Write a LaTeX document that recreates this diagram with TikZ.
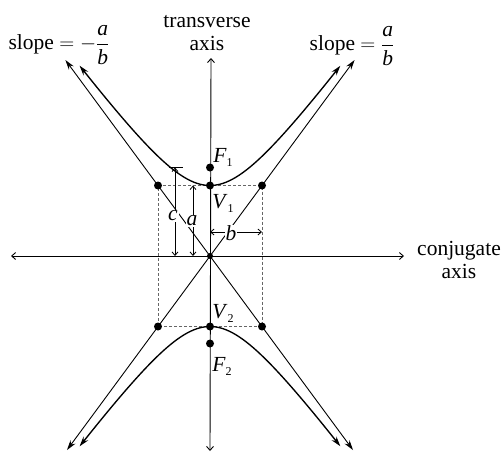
\documentclass[tikz,border=0pt]{standalone}
\usepackage{fontspec}
\setmainfont{Liberation Serif}
\usetikzlibrary{arrows.meta}
\newcommand{\subidx}[1]{\raisebox{-4pt}{\fontsize{12}{12}\selectfont #1}}
\begin{document}
\begin{tikzpicture}[x=1pt,y=-1pt,
  font=\fontsize{21.5}{23}\selectfont,
  axisline/.style={line width=0.9pt,{Straight Barb[length=4pt,width=7pt]}-{Straight Barb[length=4pt,width=7pt]}},
  asym/.style={line width=0.9pt,{Stealth[length=10pt,width=6pt]}-{Stealth[length=10pt,width=6pt]}},
  hyp/.style={line width=1.35pt,{Stealth[length=10pt,width=6pt]}-{Stealth[length=10pt,width=6pt]}},
  dot/.style={circle,fill=black,inner sep=0pt,minimum size=8pt},
  boxline/.style={line width=0.7pt,dash pattern=on 3pt off 2pt,gray!80!black},
  dim/.style={line width=0.8pt},
  dimarr/.style={dim,{Straight Barb[length=3.5pt,width=6pt]}-{Straight Barb[length=3.5pt,width=6pt]}},
  lbl/.style={fill=white,inner sep=1pt}]
\useasboundingbox (0,0) rectangle (503,453);
% key points
\coordinate (O) at (210,256);
\coordinate (TL) at (158,185.5);
\coordinate (TR) at (262,185.5);
\coordinate (BL) at (158,326.5);
\coordinate (BR) at (262,326.5);
\coordinate (axT) at (211,58);
\coordinate (axB) at (210,451);
\coordinate (axL) at (11,256);
\coordinate (axR) at (404,256);
\coordinate (A1) at (65.4,60);
\coordinate (A2) at (353,450);
\coordinate (A3) at (354.6,60);
\coordinate (A4) at (67,450);
% rectangle
\draw[boxline] (TL) -- (TR) -- (BR) -- (BL) -- cycle;
% axes
\draw[axisline] (axL) -- (axR);
\draw[axisline] (axB) -- (axT);
% asymptotes
\draw[asym] (A1) -- (A2);
\draw[asym] (A3) -- (A4);
% hyperbola
\draw[hyp] plot[domain=-1.65:1.65,samples=60,smooth] ({210+52*sinh(\x)},{256-70.5*cosh(\x)});
\draw[hyp] plot[domain=-1.65:1.65,samples=60,smooth] ({210+52*sinh(\x)},{256+70.5*cosh(\x)});
% dimension arrows
\coordinate (c1) at (175,167.5);
\coordinate (c0) at (175,256);
\coordinate (cbL) at (168.5,167.5);
\coordinate (cbR) at (182.5,167.5);
\draw[dimarr] (c0) -- (c1);
\draw[dim] (cbL) -- (cbR);
\coordinate (a1) at (193,185.5);
\coordinate (a0) at (193,256);
\draw[dimarr] (a0) -- (a1);
\coordinate (b0) at (210,232);
\coordinate (b1) at (262,232);
\draw[dimarr] (b0) -- (b1);
\node[lbl] (cl) at (173,216) {\textit{c}};
\node[lbl,inner sep=0.5pt] (al) at (192,221) {\textit{a}};
\node[lbl,inner sep=0.5pt] (bl) at (231,233) {\textit{b}};
% dots
\node[dot] (V1) at (210,185.5) {};
\node[dot] (V2) at (210,326.5) {};
\node[dot] (F1) at (210,167.5) {};
\node[dot] (F2) at (210,343.5) {};
\node[dot] (dTL) at (TL) {};
\node[dot] (dTR) at (TR) {};
\node[dot] (dBL) at (BL) {};
\node[dot] (dBR) at (BR) {};
\node[dot,minimum size=6pt] (dO) at (O) {};
% point labels
\node (F1l) at (223,157) {\textit{F}\subidx{1}};
\node (V1l) at (223,203) {\textit{V}\subidx{1}};
\node (V2l) at (223,313) {\textit{V}\subidx{2}};
\node (F2l) at (222,366) {\textit{F}\subidx{2}};
% text labels
\node[align=center] (tax) at (207,33) {transverse\\axis};
\node[align=center] (cax) at (459,260) {conjugate\\axis};
\node (sl1) at (59,45) {slope $=-\displaystyle\frac{\textit{a}}{\textit{b}}$};
\node (sl2) at (352,46) {slope $=\displaystyle\frac{\textit{a}}{\textit{b}}$};
\end{tikzpicture}
\end{document}
